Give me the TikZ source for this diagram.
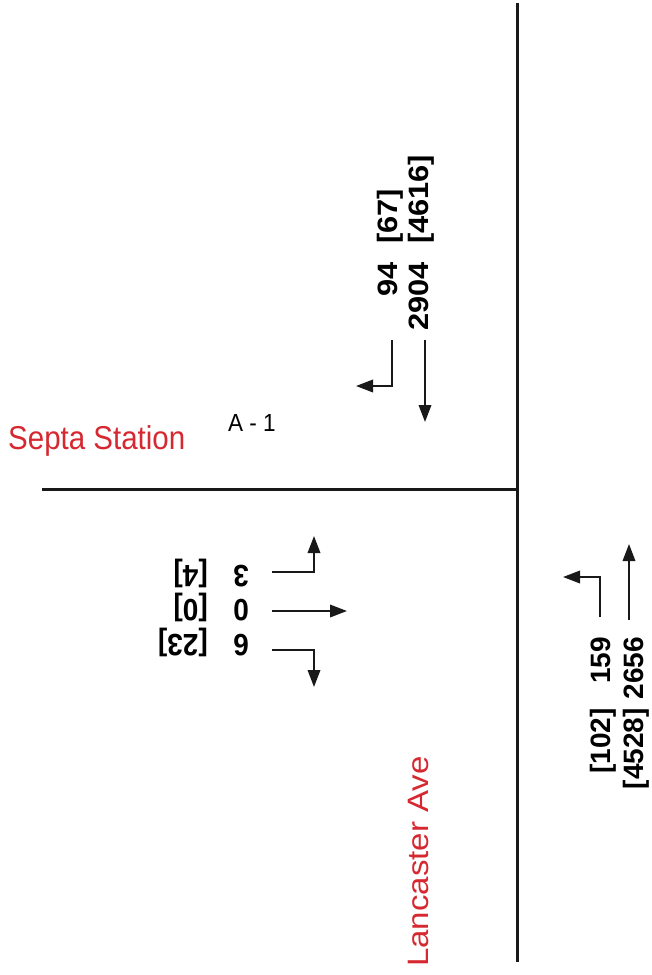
\documentclass[tikz,border=0pt]{standalone}
\usepackage{fontspec}
\setmainfont{Liberation Sans}
\usetikzlibrary{arrows.meta}
\definecolor{streetred}{RGB}{214,40,48}
\begin{document}
\begin{tikzpicture}[x=1pt,y=-1pt,
  road/.style={line width=3pt, black!90},
  mv/.style={line width=1.9pt, black!90, -{Triangle[length=17pt,width=12.5pt]}},
  vol/.style={font=\fontsize{28}{28}\selectfont\bfseries, inner sep=0pt},
  volup/.style={vol, rotate=90, xscale=1.1},
  volupn/.style={vol, rotate=90},
  voldown/.style={vol, rotate=180, yscale=1.1},
  street/.style={font=\fontsize{29.5}{29.5}\selectfont, text=streetred, inner sep=0pt}]
\useasboundingbox (0,0) rectangle (652,975);
% roads
\coordinate (rN) at (517,3);
\coordinate (rS) at (517,962);
\coordinate (rW) at (42,489);
\coordinate (rC) at (517,489);
\draw[road] (rN) -- (rS);
\draw[road] (rW) -- (rC);
% top (southbound) volumes
\node[volup, anchor=base east] (n94) at (397,262) {94};
\node[volup, anchor=base west] (b67) at (397,244) {[67]};
\node[volup, anchor=base east] (n2904) at (428,262) {2904};
\node[volup, anchor=base west] (b4616) at (428,244) {[4616]};
\coordinate (sL0) at (392,340); \coordinate (sL1) at (392,386); \coordinate (sL2) at (356,386);
\draw[mv] (sL0) -- (sL1) -- (sL2);
\coordinate (sT0) at (425,340); \coordinate (sT1) at (425,422);
\draw[mv] (sT0) -- (sT1);
% left (eastbound) volumes
\node[voldown, anchor=base east] (n3) at (233,565) {3};
\node[voldown, anchor=base west] (b4) at (208,565) {[4]};
\node[voldown, anchor=base east] (n0) at (233,599) {0};
\node[voldown, anchor=base west] (b0) at (208,599) {[0]};
\node[voldown, anchor=base east] (n6) at (233,634) {6};
\node[voldown, anchor=base west] (b23) at (208,634) {[23]};
\coordinate (eL0) at (272,572); \coordinate (eL1) at (314,572); \coordinate (eL2) at (314,536);
\draw[mv] (eL0) -- (eL1) -- (eL2);
\coordinate (eT0) at (272,611); \coordinate (eT1) at (347,611);
\draw[mv] (eT0) -- (eT1);
\coordinate (eR0) at (272,650); \coordinate (eR1) at (314,650); \coordinate (eR2) at (314,687);
\draw[mv] (eR0) -- (eR1) -- (eR2);
% bottom right (northbound) volumes
\node[volupn, anchor=base east] (n159) at (610,637) {159};
\node[volupn, anchor=base east] (b102) at (610,708) {[102]};
\node[volupn, anchor=base east] (n2656) at (643,637) {2656};
\node[volupn, anchor=base east] (b4528) at (643,708) {[4528]};
\coordinate (nL0) at (600,617); \coordinate (nL1) at (600,577); \coordinate (nL2) at (563,577);
\draw[mv] (nL0) -- (nL1) -- (nL2);
\coordinate (nT0) at (629,620); \coordinate (nT1) at (629,544);
\draw[mv] (nT0) -- (nT1);
% labels
\node[street, yscale=1.12, anchor=base west] (septa) at (8,449) {Septa Station};
\node[font=\fontsize{22.5}{22.5}\selectfont, yscale=1.1, inner sep=0pt, anchor=base west] (a1) at (228,431) {A - 1};
\node[street, rotate=90, xscale=1.12, anchor=base west] (lanc) at (428,967) {Lancaster Ave};
\end{tikzpicture}
\end{document}
